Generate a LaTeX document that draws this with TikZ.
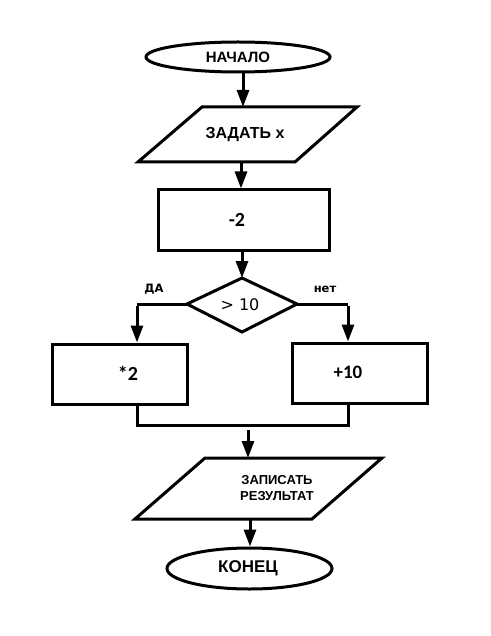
\documentclass[tikz,border=0pt]{standalone}
\usepackage{fontspec}
\setmainfont{Liberation Sans}
\newfontfamily\carl{Carlito}
\newfontfamily\dvs{DejaVu Sans}
\usetikzlibrary{arrows.meta,shapes.geometric}
\begin{document}
\begin{tikzpicture}[x=1pt,y=-1pt,
  ln/.style={line width=3pt},
  arr/.style={ln,-{Triangle[length=17pt,width=12pt]}},
  shp/.style={draw,line width=3pt,fill=white}]
\useasboundingbox (0,0) rectangle (490,636);
% start
\node[shp,ellipse,minimum width=184pt,minimum height=30pt,inner sep=0pt] (start) at (238,57) {};
\node[font=\bfseries\fontsize{15}{17}\selectfont] (tstart) at (238,57) {НАЧАЛО};
% input
\draw[shp] (202,107) -- (357,107) -- (295,162) -- (138,162) -- cycle;
\coordinate (inT) at (243,107);
\coordinate (inB) at (241,162);
\node[font=\bfseries\fontsize{16}{18}\selectfont] (tin) at (245,135) {ЗАДАТЬ x};
% rect -2
\node[shp,minimum width=171pt,minimum height=60pt,inner sep=0pt] (r1) at (243.5,220) {};
\node[font=\carl\bfseries\fontsize{20}{22}\selectfont] (t1) at (237,220) {-2};
% diamond
\coordinate (dT) at (242,278);
\coordinate (dL) at (187,304);
\coordinate (dR) at (297,304);
\coordinate (dB) at (242,332);
\draw[ln,line join=miter] (dT) -- (dR) -- (dB) -- (dL) -- cycle;
\node[font=\dvs\fontsize{16}{18}\selectfont] (td) at (240,305) {> 10};
\node[font=\dvs\bfseries\fontsize{11.5}{13}\selectfont] (yes) at (154,289) {ДА};
\node[font=\dvs\bfseries\fontsize{11.5}{13}\selectfont] (no) at (325,289) {нет};
% left/right rects
\node[shp,minimum width=135pt,minimum height=60pt,inner sep=0pt] (rl) at (119.5,374) {};
\node[font=\carl\bfseries\fontsize{20}{22}\selectfont] (tl) at (128,373) {*2};
\node[shp,minimum width=135pt,minimum height=60pt,inner sep=0pt] (rr) at (359.5,373) {};
\node[font=\carl\bfseries\fontsize{19}{21}\selectfont] (tr) at (348,372) {+10};
% output
\draw[shp] (205,458) -- (382,458) -- (312,519) -- (135,519) -- cycle;
\coordinate (outT) at (248,458);
\coordinate (outB) at (250,519);
\node[font=\bfseries\fontsize{13}{16}\selectfont,align=center] (tout) at (277,488) {ЗАПИСАТЬ\\РЕЗУЛЬТАТ};
% end
\node[shp,ellipse,minimum width=165pt,minimum height=41pt,inner sep=0pt] (end) at (249.5,568.5) {};
\node[font=\bfseries\fontsize{17}{19}\selectfont] (tend) at (248,568) {КОНЕЦ};
% connectors
\draw[arr] (start.south -| inT) -- (inT);
\draw[arr] (inB) -- (r1.north -| inB);
\draw[arr] (r1.south -| dT) -- (dT);
\coordinate (lcorner) at (137,304);
\coordinate (rcorner) at (348,304);
\draw[ln] (dL) -- (lcorner);
\draw[arr] ([yshift=-1.5pt]lcorner) -- (lcorner |- rl.north);
\draw[ln] (dR) -- (rcorner);
\draw[arr] ([yshift=-1.5pt]rcorner) -- (rcorner |- rr.north);
\coordinate (ml) at (137,425);
\coordinate (mr) at (348,425);
\draw[ln] (rl.south -| ml) -- (ml) -- (mr) -- (rr.south -| mr);
\coordinate (mstart) at (248,430);
\draw[arr] (mstart) -- (outT);
\draw[arr] (outB) -- (end.north -| outB);
\end{tikzpicture}
\end{document}
